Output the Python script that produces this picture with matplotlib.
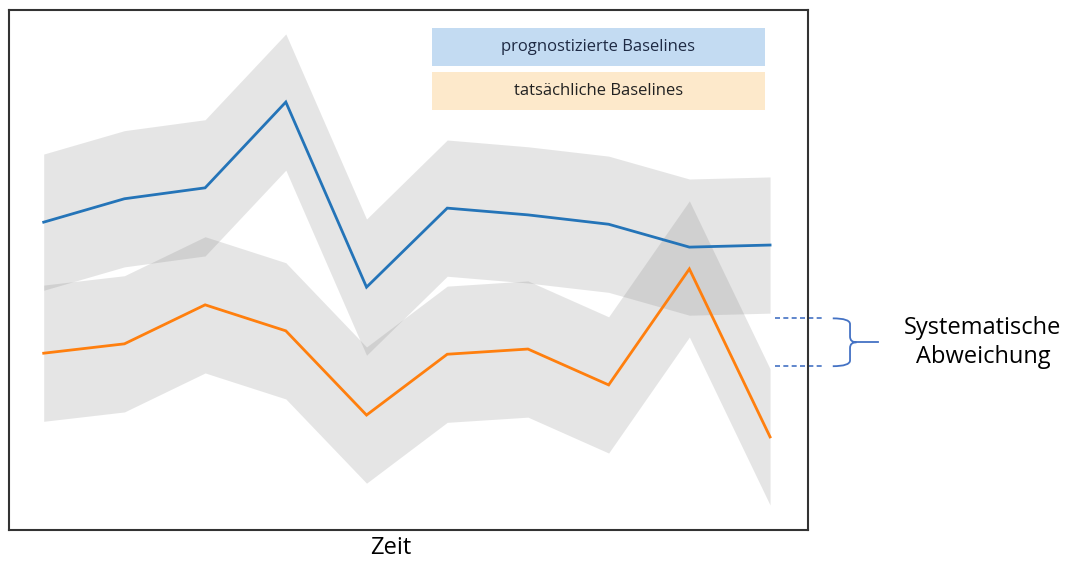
import matplotlib
matplotlib.use('Agg')
import numpy as np
import matplotlib.pyplot as plt
from matplotlib.patches import Rectangle, PathPatch
from matplotlib.path import Path
import matplotlib.transforms as mtransforms

# data (arbitrary units 0..100)
zeit = np.arange(10)
prognose = [59.2, 63.7, 65.8, 82.3, 46.7, 61.9, 60.6, 58.8, 54.4, 54.8]
tatsaechlich = [34.0, 35.8, 43.3, 38.3, 22.1, 33.8, 34.8, 27.9, 50.2, 17.9]
band = 13.1  # half width of the grey bands

legend_labels = ['prognostizierte Baselines', 'tatsächliche Baselines']
annot_text = 'Systematische\nAbweichung'

plt.rcParams['font.family'] = ['Open Sans', 'DejaVu Sans']

fig = plt.figure(figsize=(10.66, 5.62), dpi=100)
ax = fig.add_axes([9/1066, 32/562, 799/1066, 520/562])

p = np.array(prognose)
t = np.array(tatsaechlich)
ax.fill_between(zeit, p - band, p + band, color='gray', alpha=0.2, lw=0)
ax.fill_between(zeit, t - band, t + band, color='gray', alpha=0.2, lw=0)
ax.plot(zeit, p, color='#2474b8', lw=2.0, solid_joinstyle='miter')
ax.plot(zeit, t, color='#ff7f0e', lw=2.0, solid_joinstyle='miter')

ax.set_xlim(-0.43, 9.47)
ax.set_ylim(0, 100)
ax.set_xticks([])
ax.set_yticks([])
for s in ax.spines.values():
    s.set_color('#333333')
    s.set_linewidth(1.5)
ax.set_xlabel('Zeit', fontsize=17, color='black')
ax.xaxis.set_label_coords(0.478, -0.012, transform=ax.transAxes)
ax.xaxis.label.set_va('top')

# legend-like boxes
box_cols = ['#c3dbf2', '#fde9cb']
box_txt = ['#1e2a44', '#222222']
box_y = [0.892, 0.808]
for lab, c, tc, y0 in zip(legend_labels, box_cols, box_txt, box_y):
    ax.add_patch(Rectangle((0.529, y0), 0.417, 0.073, transform=ax.transAxes,
                           facecolor=c, edgecolor='none'))
    ax.text(0.529 + 0.417/2, y0 + 0.073/2, lab, transform=ax.transAxes,
            ha='center', va='center', fontsize=12, color=tc)

# systematic deviation marker
trans = mtransforms.blended_transform_factory(ax.transAxes, ax.transData)
y_top = p[-1] - band - 1.0
y_bot = t[-1] + band + 0.5
y_mid = (y_top + y_bot) / 2
for yy in (y_top, y_bot):
    ax.plot([0.959, 1.0175], [yy, yy], transform=trans, color='#4472c4',
            lw=1.2, ls=(0, (3, 2)), clip_on=False)

xa, xb, xt = 1.031, 1.0526, 1.0876
dy = (y_top - y_bot) * 0.12
verts = [(xa, y_top), (xb, y_top), (xb, y_top - dy),
         (xb, y_mid + dy), (xb, y_mid), (xb + 0.008, y_mid),
         (xb, y_mid), (xb, y_mid - dy),
         (xb, y_bot + dy), (xb, y_bot), (xa, y_bot)]
codes = [Path.MOVETO, Path.CURVE3, Path.CURVE3,
         Path.LINETO, Path.CURVE3, Path.CURVE3,
         Path.CURVE3, Path.CURVE3,
         Path.LINETO, Path.CURVE3, Path.CURVE3]
ax.add_patch(PathPatch(Path(verts, codes), transform=trans, facecolor='none',
                       edgecolor='#4472c4', lw=1.3, clip_on=False))
ax.plot([xb + 0.008, xt], [y_mid, y_mid], transform=trans, color='#4472c4',
        lw=1.3, clip_on=False)

ax.text(1.219, y_mid, annot_text, transform=trans, ha='center', va='center',
        fontsize=17, linespacing=1.3, color='black')

fig.savefig('out.png', dpi=100)
